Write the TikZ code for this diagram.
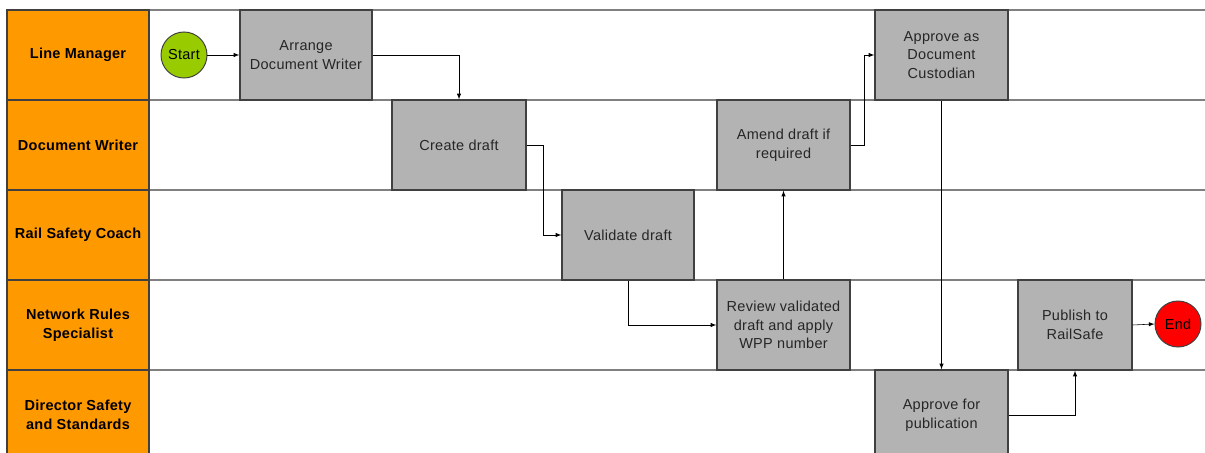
\documentclass[tikz,border=0pt]{standalone}
\usepackage{fontspec}
\setmainfont{Liberation Sans}[LetterSpace=2]
\usepackage{tikz}
\usetikzlibrary{arrows}
\usetikzlibrary{positioning}

\definecolor{laneorange}{HTML}{FF9900}
\definecolor{boxgray}{HTML}{B3B3B3}
\definecolor{startgreen}{HTML}{99CC00}
\definecolor{endred}{HTML}{FF0000}
\definecolor{edgegray}{HTML}{404040}
\definecolor{linegray}{HTML}{808080}

\begin{document}
\begin{tikzpicture}[x=0.025cm, y=-0.025cm,
    font=\fontsize{10.3}{13.2}\selectfont,
    lanehead/.style={draw=edgegray, line width=0.9pt, fill=laneorange, minimum width=3.55cm,
      minimum height=2.25cm, inner sep=1pt, align=center, font=\fontsize{10.3}{13.2}\selectfont\bfseries},
    task/.style={draw=edgegray, line width=0.9pt, fill=boxgray, minimum height=2.25cm,
      inner sep=2pt, align=center, text=black!85},
    terminal/.style={circle, draw=edgegray, line width=0.7pt, minimum size=1.15cm, inner sep=0pt},
    flow/.style={-latex, thin, black}]
    \clip (0,0) rectangle (1205,453);
    % swimlanes
    \foreach \i/\who in {1/Line Manager, 2/Document Writer, 3/Rail Safety Coach,
        4/{Network Rules\\Specialist}, 5/{Director Safety\\and Standards}} {
      \draw[linegray, line width=0.9pt] (149,{10+90*(\i-1)}) rectangle (1215,{100+90*(\i-1)});
      \node[lanehead] (lane\i) at (78,{55+90*(\i-1)}) {\who};
    }
    % steps
    \node[terminal, fill=startgreen] (start) at (184,55) {Start};
    \node[task, minimum width=3.3cm] (arrange) at (306,55) {Arrange\\Document Writer};
    \node[task, minimum width=3.35cm] (create) at (459,145) {Create draft};
    \node[task, minimum width=3.3cm] (validate) at (628,235) {Validate draft};
    \node[task, minimum width=3.325cm] (amend) at (783.5,145) {Amend draft if\\required};
    \node[task, minimum width=3.325cm] (review) at (783.5,325) {Review validated\\draft and apply\\WPP number};
    \node[task, minimum width=3.325cm] (custodian) at (941.5,55) {Approve as\\Document\\Custodian};
    \node[task, minimum width=3.325cm] (approve) at (941.5,415) {Approve for\\publication};
    \node[task, minimum width=2.85cm] (publish) at (1075,325) {Publish to\\RailSafe};
    \node[terminal, fill=endred] (stop) at (1178,324) {End};
    % flow
    \draw[flow] (start) -- (arrange);
    \draw[flow] (arrange.east) -| (create.north);
    \draw[flow] (create.east) -- ++(17,0) |- (validate.west);
    \draw[flow] (validate.south) |- (review.west);
    \draw[flow] (review.north) -- (amend.south);
    \draw[flow] (amend.east) -- ++(14,0) |- (custodian.west);
    \draw[flow] (custodian.south) -- (approve.north);
    \draw[flow] (approve.east) -| (publish.south);
    \draw[flow] (publish.east) -- (stop.west);
\end{tikzpicture}
\end{document}
